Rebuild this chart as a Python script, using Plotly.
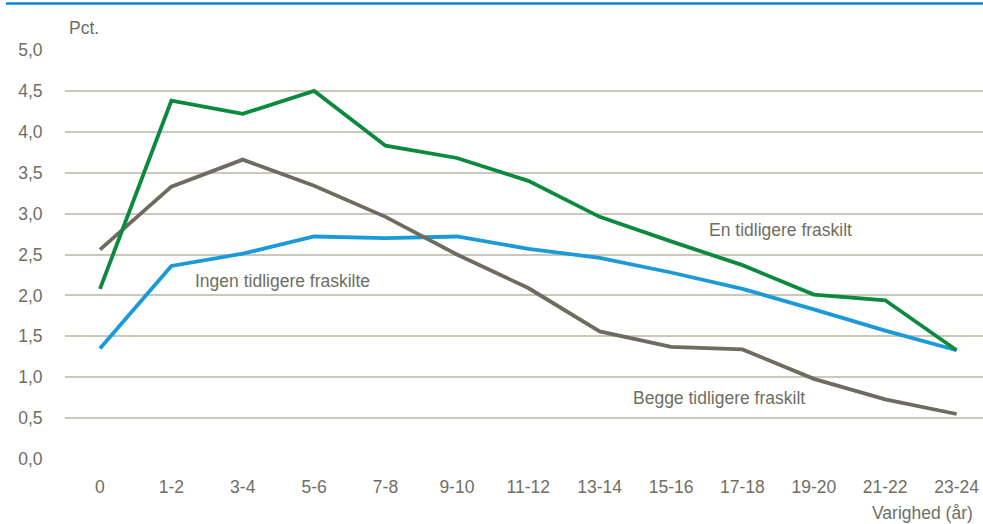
import plotly.graph_objects as go

categories = ["0", "1-2", "3-4", "5-6", "7-8", "9-10", "11-12", "13-14", "15-16", "17-18", "19-20", "21-22", "23-24"]
en_tidligere = [2.08, 4.38, 4.22, 4.50, 3.83, 3.68, 3.40, 2.96, 2.66, 2.37, 2.01, 1.94, 1.33]
begge_tidligere = [2.56, 3.33, 3.66, 3.34, 2.96, 2.50, 2.09, 1.56, 1.37, 1.34, 0.98, 0.73, 0.55]
ingen_tidligere = [1.35, 2.36, 2.51, 2.72, 2.70, 2.72, 2.57, 2.46, 2.28, 2.08, 1.83, 1.57, 1.33]
y_ticks = [0, 0.5, 1.0, 1.5, 2.0, 2.5, 3.0, 3.5, 4.0, 4.5, 5.0]
y_labels = ["0,0", "0,5", "1,0", "1,5", "2,0", "2,5", "3,0", "3,5", "4,0", "4,5", "5,0"]

FONT = "Liberation Sans, Arial, sans-serif"
TXT = "#6f6e5f"
x_idx = list(range(len(categories)))

fig = go.Figure()
fig.add_trace(go.Scatter(x=x_idx, y=ingen_tidligere, mode="lines",
                         line=dict(color="#1b9ad8", width=3.8), name="Ingen tidligere fraskilte"))
fig.add_trace(go.Scatter(x=x_idx, y=begge_tidligere, mode="lines",
                         line=dict(color="#6e6b5f", width=3.8), name="Begge tidligere fraskilt"))
fig.add_trace(go.Scatter(x=x_idx, y=en_tidligere, mode="lines",
                         line=dict(color="#0b8a3e", width=3.8), name="En tidligere fraskilt"))

annots = [
    dict(x=9.54, y=2.80, text="En tidligere fraskilt"),
    dict(x=2.56, y=2.17, text="Ingen tidligere fraskilte"),
    dict(x=8.67, y=0.75, text="Begge tidligere fraskilt"),
]
for a in annots:
    fig.add_annotation(x=a["x"], y=a["y"], xref="x", yref="y", text=a["text"], showarrow=False,
                       font=dict(family=FONT, size=17.5, color=TXT))

fig.add_annotation(x=0.0, y=1.0, xref="paper", yref="paper", xanchor="left", yanchor="bottom",
                   xshift=2, yshift=10, text="Pct.", showarrow=False,
                   font=dict(family=FONT, size=17.5, color=TXT))
fig.add_annotation(x=1.0, y=0.0, xref="paper", yref="paper", xanchor="right", yanchor="top",
                   xshift=-8, yshift=-42, text="Varighed (år)", showarrow=False,
                   font=dict(family=FONT, size=17.5, color=TXT))

fig.update_layout(
    width=983, height=524,
    margin=dict(l=65, r=0, t=50, b=65),
    paper_bgcolor="white", plot_bgcolor="white",
    showlegend=False,
    font=dict(family=FONT, size=17.5, color=TXT),
    xaxis=dict(range=[-0.49, 12.37], tickmode="array", tickvals=x_idx, ticktext=categories,
               showgrid=False, zeroline=False, showline=False,
               ticks="outside", ticklen=12, tickcolor="rgba(0,0,0,0)",
               tickfont=dict(family=FONT, size=17.5, color=TXT)),
    yaxis=dict(range=[0, 5], tickmode="array", tickvals=y_ticks, ticktext=y_labels,
               showgrid=True, gridcolor="#c9c8b9", gridwidth=1.5, zeroline=False, showline=False,
               ticks="outside", ticklen=18, tickcolor="rgba(0,0,0,0)",
               tickfont=dict(family=FONT, size=17.5, color=TXT)),
    shapes=[dict(type="line", xref="paper", yref="paper", x0=-59 / 918, x1=1.0, y0=1 + 46.5 / 409, y1=1 + 46.5 / 409,
                 line=dict(color="#0a87cc", width=2.5))],
)

fig.write_html("out.html", config={"displayModeBar": False},
               post_script="document.body.style.margin='0px';document.body.style.overflow='hidden';")
